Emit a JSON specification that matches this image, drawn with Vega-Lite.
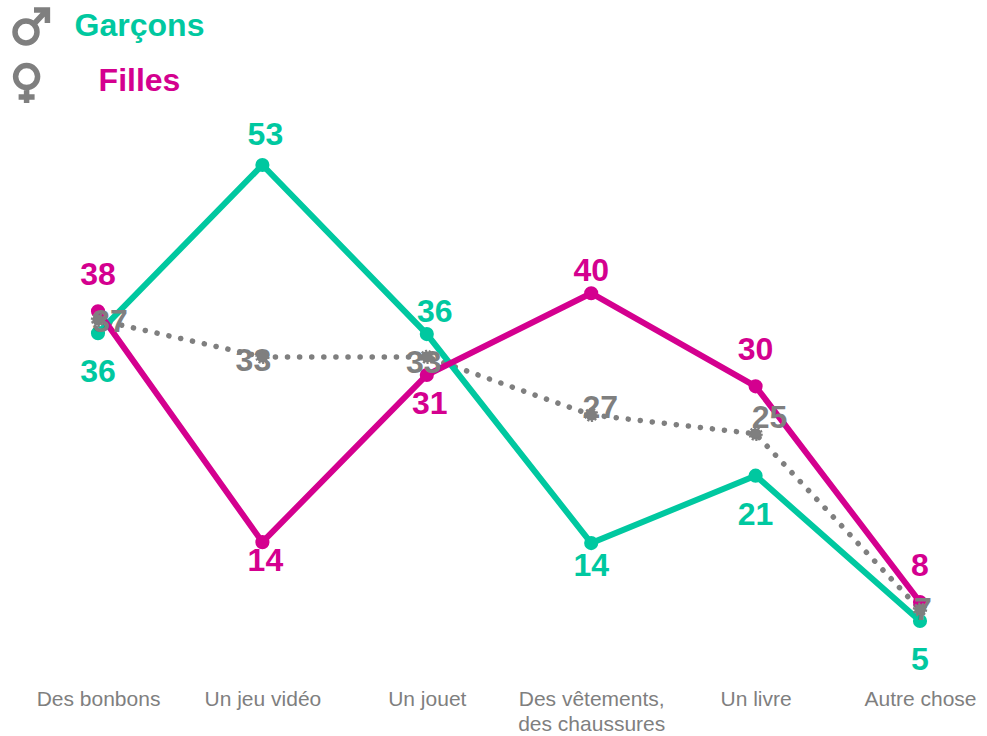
{"$schema":"https://vega.github.io/schema/vega-lite/v6.json","width":987,"height":680,"padding":{"left":0,"top":0,"right":0,"bottom":56},"autosize":{"type":"none"},"background":"white","config":{"view":{"stroke":null},"font":"Liberation Sans"},
"datasets":{"d":[
{"categorie":"Des bonbons","serie":"Garçons","valeur":35.3,"etiquette":36},
{"categorie":"Un jeu vidéo","serie":"Garçons","valeur":53,"etiquette":53},
{"categorie":"Un jouet","serie":"Garçons","valeur":35.2,"etiquette":36},
{"categorie":"Des vêtements, des chaussures","serie":"Garçons","valeur":13.2,"etiquette":14},
{"categorie":"Un livre","serie":"Garçons","valeur":20.3,"etiquette":21},
{"categorie":"Autre chose","serie":"Garçons","valeur":5,"etiquette":5},
{"categorie":"Des bonbons","serie":"Filles","valeur":37.6,"etiquette":38},
{"categorie":"Un jeu vidéo","serie":"Filles","valeur":13.3,"etiquette":14},
{"categorie":"Un jouet","serie":"Filles","valeur":30.9,"etiquette":31},
{"categorie":"Des vêtements, des chaussures","serie":"Filles","valeur":39.5,"etiquette":40},
{"categorie":"Un livre","serie":"Filles","valeur":29.7,"etiquette":30},
{"categorie":"Autre chose","serie":"Filles","valeur":7,"etiquette":8},
{"categorie":"Des bonbons","serie":"Ensemble","valeur":36.7,"etiquette":37},
{"categorie":"Un jeu vidéo","serie":"Ensemble","valeur":32.8,"etiquette":33},
{"categorie":"Un jouet","serie":"Ensemble","valeur":32.8,"etiquette":33},
{"categorie":"Des vêtements, des chaussures","serie":"Ensemble","valeur":26.7,"etiquette":27},
{"categorie":"Un livre","serie":"Ensemble","valeur":24.7,"etiquette":25},
{"categorie":"Autre chose","serie":"Ensemble","valeur":6.2,"etiquette":7}
]},
"data":{"name":"d"},
"encoding":{
"x":{"field":"categorie","type":"nominal","sort":null,"scale":{"type":"point","range":[98,920],"padding":0},"axis":{"title":null,"domain":false,"ticks":false,"grid":false,"labelAngle":0,"labelFont":"Liberation Sans","labelFontSize":21,"labelColor":"#7f7f7f","labelPadding":8,"labelLineHeight":25,"labelLimit":300,"labelOverlap":false,"labelExpr":"datum.label == 'Des vêtements, des chaussures' ? ['Des vêtements,','des chaussures'] : datum.label"}},
"y":{"field":"valeur","type":"quantitative","scale":{"domain":[-1.2105,70.3684],"nice":false,"zero":false},"axis":null},
"color":{"field":"serie","type":"nominal","scale":{"domain":["Garçons","Filles","Ensemble"],"range":["#00c8a0","#d4008f","#7f7f7f"]},"legend":null}
},
"layer":[
{"transform":[{"filter":"datum.serie != 'Ensemble'"}],"mark":{"type":"point","filled":false,"stroke":"#7f7f7f","strokeOpacity":0,"fillOpacity":0,"size":1},"encoding":{"color":null,"shape":{"field":"serie","type":"nominal","scale":{"domain":["Garçons","Filles"],"range":["M0.2,0.3A0.55,0.55 0 1 1 -0.9,0.3A0.55,0.55 0 1 1 0.2,0.3Z M0,-0.05L0.7,-0.8 M0.05,-0.8L0.72,-0.8L0.72,-0.15","M0.23,-0.22A0.55,0.55 0 1 1 -0.87,-0.22A0.55,0.55 0 1 1 0.23,-0.22Z M-0.32,0.33L-0.32,1.1 M-0.72,0.8L0.08,0.8"]},"legend":{"orient":"none","legendX":10,"legendY":3,"title":null,"symbolSize":1600,"symbolStrokeColor":"#7f7f7f","symbolFillColor":"transparent","symbolStrokeWidth":5.5,"symbolOpacity":1,"rowPadding":0,"labelFontSize":32,"labelFontWeight":"bold","labelFont":"Liberation Sans","labelAlign":"center","labelOffset":83.5,"labelColor":{"expr":"datum.value === 'Garçons' ? '#00c8a0' : '#d4008f'"}}}}},
{"transform":[{"filter":"datum.serie == 'Ensemble'"}],"mark":{"type":"line","strokeWidth":5.5,"strokeCap":"round","strokeDash":[0.1,12]}},
{"transform":[{"filter":"datum.serie != 'Ensemble'"}],"mark":{"type":"line","strokeWidth":6}},
{"transform":[{"filter":"datum.serie != 'Ensemble'"}],"mark":{"type":"point","filled":true,"opacity":1,"size":200,"shape":"circle"}},
{"transform":[{"filter":"datum.serie == 'Ensemble'"}],"mark":{"type":"point","filled":true,"opacity":1,"size":130,"shape":"circle","stroke":"#7f7f7f","strokeWidth":3,"strokeDash":[2,1.5]}},
{"transform":[{"filter":"datum.serie == 'Filles' && (datum.categorie == 'Des bonbons' || datum.categorie == 'Un livre' || datum.categorie == 'Autre chose')"}],"mark":{"type":"text","fontSize":32,"fontWeight":"bold","dy":-36},"encoding":{"text":{"field":"etiquette","type":"quantitative"}}},
{"transform":[{"filter":"datum.serie == 'Garçons' && datum.categorie == 'Un jeu vidéo'"}],"mark":{"type":"text","fontSize":32,"fontWeight":"bold","dx":3,"dy":-30},"encoding":{"text":{"field":"etiquette","type":"quantitative"}}},
{"transform":[{"filter":"datum.serie == 'Garçons' && datum.categorie == 'Un jouet'"}],"mark":{"type":"text","fontSize":32,"fontWeight":"bold","dx":8,"dy":-22},"encoding":{"text":{"field":"etiquette","type":"quantitative"}}},
{"transform":[{"filter":"datum.serie == 'Filles' && datum.categorie == 'Des vêtements, des chaussures'"}],"mark":{"type":"text","fontSize":32,"fontWeight":"bold","dy":-22},"encoding":{"text":{"field":"etiquette","type":"quantitative"}}},
{"transform":[{"filter":"datum.serie == 'Garçons' && (datum.categorie == 'Des bonbons' || datum.categorie == 'Un livre' || datum.categorie == 'Autre chose')"}],"mark":{"type":"text","fontSize":32,"fontWeight":"bold","dy":39},"encoding":{"text":{"field":"etiquette","type":"quantitative"}}},
{"transform":[{"filter":"datum.serie == 'Garçons' && datum.categorie == 'Des vêtements, des chaussures'"}],"mark":{"type":"text","fontSize":32,"fontWeight":"bold","dy":23},"encoding":{"text":{"field":"etiquette","type":"quantitative"}}},
{"transform":[{"filter":"datum.serie == 'Filles' && datum.categorie == 'Un jeu vidéo'"}],"mark":{"type":"text","fontSize":32,"fontWeight":"bold","dx":3,"dy":19},"encoding":{"text":{"field":"etiquette","type":"quantitative"}}},
{"transform":[{"filter":"datum.serie == 'Filles' && datum.categorie == 'Un jouet'"}],"mark":{"type":"text","fontSize":32,"fontWeight":"bold","dx":3,"dy":29},"encoding":{"text":{"field":"etiquette","type":"quantitative"}}},
{"transform":[{"filter":"datum.serie == 'Ensemble' && datum.categorie == 'Des bonbons'"}],"mark":{"type":"text","fontSize":32,"fontWeight":"bold","dx":12,"dy":2},"encoding":{"text":{"field":"etiquette","type":"quantitative"}}},
{"transform":[{"filter":"datum.serie == 'Ensemble' && datum.categorie == 'Un jeu vidéo'"}],"mark":{"type":"text","fontSize":32,"fontWeight":"bold","dx":-9,"dy":4},"encoding":{"text":{"field":"etiquette","type":"quantitative"}}},
{"transform":[{"filter":"datum.serie == 'Ensemble' && datum.categorie == 'Un jouet'"}],"mark":{"type":"text","fontSize":32,"fontWeight":"bold","dx":-3,"dy":6},"encoding":{"text":{"field":"etiquette","type":"quantitative"}}},
{"transform":[{"filter":"datum.serie == 'Ensemble' && datum.categorie == 'Des vêtements, des chaussures'"}],"mark":{"type":"text","fontSize":32,"fontWeight":"bold","dx":9,"dy":-7},"encoding":{"text":{"field":"etiquette","type":"quantitative"}}},
{"transform":[{"filter":"datum.serie == 'Ensemble' && datum.categorie == 'Un livre'"}],"mark":{"type":"text","fontSize":32,"fontWeight":"bold","dx":14,"dy":-16},"encoding":{"text":{"field":"etiquette","type":"quantitative"}}},
{"transform":[{"filter":"datum.serie == 'Ensemble' && datum.categorie == 'Autre chose'"}],"mark":{"type":"text","fontSize":32,"fontWeight":"bold","dx":3,"dy":0},"encoding":{"text":{"field":"etiquette","type":"quantitative"}}}
]}
